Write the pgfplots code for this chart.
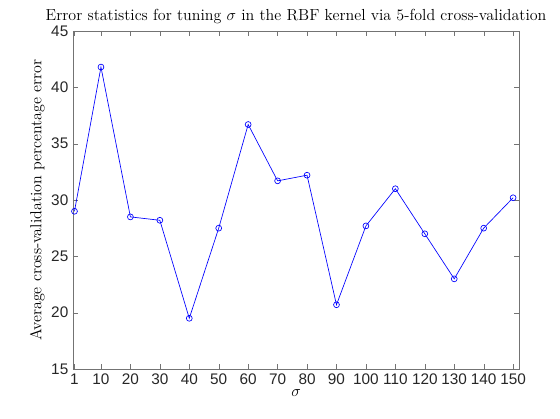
\documentclass[border=0pt]{standalone}
\usepackage{fontspec}
\newfontfamily\tickfont{Liberation Sans}
\usepackage{pgfplots}
\pgfplotsset{compat=1.18}
\begin{document}
\begin{tikzpicture}
\begin{axis}[
  scale only axis, width=334.5pt, height=253.5pt,
  xmin=0.5, xmax=152, ymin=15, ymax=45,
  xtick={1,10,20,30,40,50,60,70,80,90,100,110,120,130,140,150},
  ytick={15,20,...,45},
  tick align=inside, tick pos=both,
  axis line style={draw=black!55}, tick style={draw=black!55, major tick length=4pt},
  /pgf/number format/assume math mode=true,
  tick label style={font=\tickfont\fontsize{11.5}{13}\selectfont, text=black!85},
  xlabel={$\sigma$}, ylabel={Average cross-validation percentage error},
  label style={font=\fontsize{12}{14}\selectfont},
  title={Error statistics for tuning $\sigma$ in the RBF kernel via 5-fold cross-validation},
  title style={font=\fontsize{12}{14}\selectfont, yshift=-4pt},
  xlabel style={yshift=3pt}, ylabel style={yshift=-2pt},
]
\addplot[blue, mark=o, mark size=2.2pt, line width=0.5pt] coordinates {
(1,29.0)(10,41.8)(20,28.5)(30,28.2)(40,19.5)(50,27.5)(60,36.7)(70,31.7)
(80,32.2)(90,20.7)(100,27.7)(110,31.0)(120,27.0)(130,23.0)(140,27.5)(150,30.2)};
\end{axis}
\pgfresetboundingbox
\useasboundingbox ([shift={(-54.75pt,-37.5pt)}]current axis.south west) rectangle ([shift={(30.75pt,23.25pt)}]current axis.north east);
\end{tikzpicture}
\end{document}
